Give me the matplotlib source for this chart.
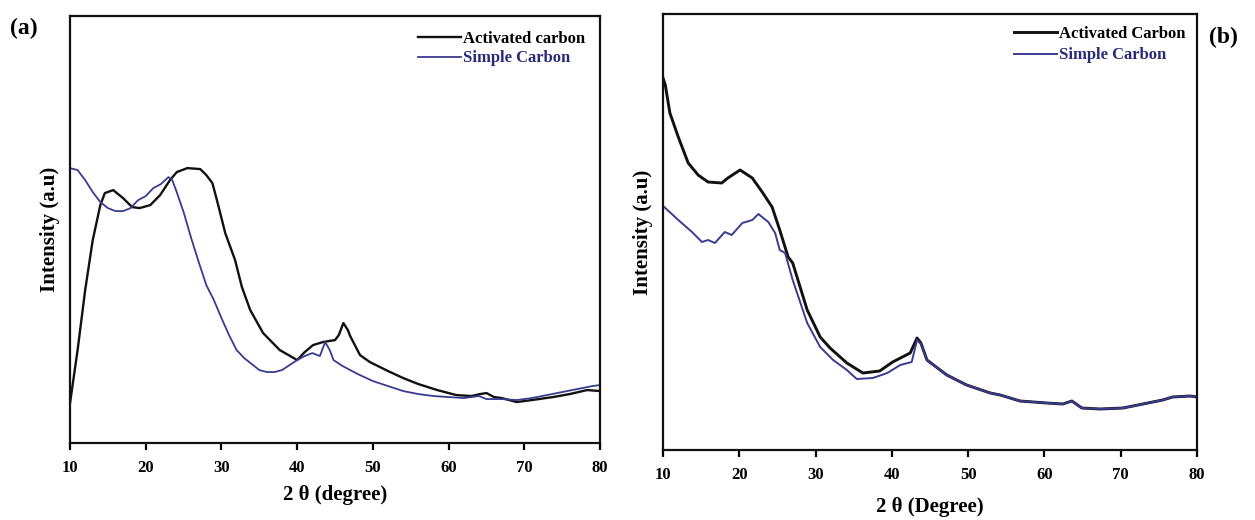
import matplotlib
matplotlib.use("Agg")
import matplotlib.pyplot as plt

# ---------------- panel (a) ----------------
a_act_x = [10, 11, 12, 13, 14, 14.6, 15.7, 17, 18.2, 19.2, 20.6, 21.9, 23.2, 24.1,
           25.5, 27.2, 28, 28.8, 29.4, 30.5, 31.8, 32.7, 33.8, 35.5, 37.7, 40, 41,
           42.1, 43.4, 45, 45.5, 46.1, 46.7, 47, 48.3, 49.6, 52, 54, 56, 58.5, 61,
           63, 64.2, 65, 66, 67, 69, 71, 73.8, 76, 78.3, 80]
a_act_y = [40, 93, 153, 203, 238, 250, 253, 245, 236, 235, 238, 248, 263, 271,
           275, 274, 268, 260, 243, 210, 183, 156, 133, 110, 93, 83, 91,
           98, 101, 103, 108, 120, 113, 107, 88, 81, 72, 65, 59, 53, 48,
           47, 49, 50, 46, 45, 41, 43, 46, 49, 53, 52]

a_sim_x = [10, 11, 12, 13, 14, 15, 16, 17, 18, 18.5, 19, 20, 21, 22, 23, 23.5, 24,
           25, 26, 27, 28, 29, 30, 31, 32, 33, 34, 35, 36, 37, 38, 39, 40, 41, 42,
           43, 43.7, 44.3, 44.8, 46, 48, 50, 52, 54, 56, 58, 60, 62, 64, 65, 67,
           69, 71, 73, 75, 77, 79, 80]
a_sim_y = [275, 273, 263, 251, 241, 235, 232, 232, 235, 239, 243, 247, 255, 259,
           266, 263, 253, 231, 205, 181, 158, 143, 125, 108, 93, 85, 79, 73, 71,
           71, 73, 78, 83, 87, 90, 87, 101, 93, 83, 77, 69, 62, 57, 52, 49, 47,
           46, 45, 47, 44, 44, 43, 45, 48, 51, 54, 57, 58]

# ---------------- panel (b) ----------------
b_act_x = [10, 10.3, 10.9, 12, 13.3, 14.6, 15.9, 17.7, 18.5, 20.1, 21.7, 23, 24.3,
           25.3, 26.4, 27, 28.9, 30.6, 31.9, 34.1, 36.2, 38.4, 40.1, 42.4, 43.3,
           43.8, 44.6, 47.2, 49.8, 52.9, 54.2, 56.8, 60.3, 62.4, 63.6, 64.9, 67.3,
           70.3, 72.9, 75.5, 76.8, 79.1, 80]
b_act_y = [372, 365, 337, 313, 287, 275, 268, 267, 272, 280, 272, 258, 243,
           220, 193, 187, 140, 113, 102, 87, 77, 79, 88, 97, 112,
           107, 90, 75, 65, 57, 55, 49, 47, 46, 49, 42, 41,
           42, 46, 50, 53, 54, 53]

b_sim_x = [10, 10.3, 12, 13.8, 15.1, 15.9, 16.8, 18.1, 19, 20.4, 21.7, 22.5, 23.8,
           24.7, 25.3, 26, 27, 28.9, 30.6, 32.3, 34.1, 35.4, 37.5, 39.4, 41.1,
           42.6, 43.3, 43.8, 44.6, 47.2, 49.8, 52.9, 54.2, 56.8, 60.3, 62.4, 63.6,
           64.9, 67.3, 70.3, 72.9, 75.5, 76.8, 79.1, 80]
b_sim_y = [244, 242, 230, 218, 208, 210, 207, 218, 215, 227, 230, 236, 228,
           217, 200, 197, 170, 127, 103, 90, 80, 71, 72, 77, 85,
           88, 110, 106, 90, 75, 65, 57, 55, 49, 47, 46, 49,
           42, 41, 42, 46, 50, 53, 54, 53]

x_ticks = [10, 20, 30, 40, 50, 60, 70, 80]

BLACK = "#111111"
BLUE = "#3b3b8f"
SERIF = "Liberation Serif"

plt.rcParams["font.family"] = SERIF
plt.rcParams["font.weight"] = "bold"

fig = plt.figure(figsize=(12.55, 5.2), dpi=100)
ax_a = fig.add_axes([0.0558, 0.148, 0.4223, 0.821])
ax_b = fig.add_axes([0.5283, 0.1346, 0.4255, 0.8385])


def style_axes(ax, ylim, xlabel):
    ax.set_xlim(10, 80)
    ax.set_ylim(*ylim)
    ax.set_xticks(x_ticks)
    ax.set_yticks([])
    for s in ax.spines.values():
        s.set_linewidth(1.6)
        s.set_color("#111111")
    ax.tick_params(axis="x", direction="out", length=5, width=1.6,
                   labelsize=12, pad=7)
    for lab in ax.get_xticklabels():
        lab.set_fontweight("bold")
    ax.set_xlabel(xlabel, fontsize=15, fontweight="bold", labelpad=7)
    ax.set_ylabel("Intensity (a.u)", fontsize=15, fontweight="bold", labelpad=7)


# panel (a)
ax_a.plot(a_act_x, a_act_y, color=BLACK, lw=1.7, label="Activated carbon")
ax_a.plot(a_sim_x, a_sim_y, color=BLUE, lw=1.3, label="Simple Carbon")
style_axes(ax_a, (0, 427), "2 θ (degree)")
leg_a = ax_a.legend(loc="upper right", frameon=False, fontsize=12,
                    handlelength=2.6, handletextpad=0.1, borderaxespad=0.5,
                    labelspacing=0.2)
leg_a.get_texts()[1].set_color("#2a2a78")
fig.text(0.008, 0.945, "(a)", fontsize=17, fontweight="bold", ha="left", va="center")

# panel (b)
ax_b.plot(b_act_x, b_act_y, color=BLACK, lw=2.1, label="Activated Carbon")
ax_b.plot(b_sim_x, b_sim_y, color=BLUE, lw=1.4, label="Simple Carbon")
style_axes(ax_b, (0, 436), "2 θ (Degree)")
ax_b.xaxis.labelpad = 10
leg_b = ax_b.legend(loc="upper right", frameon=False, fontsize=12,
                    handlelength=2.6, handletextpad=0.1, borderaxespad=0.3,
                    labelspacing=0.35)
leg_b.get_texts()[1].set_color("#2a2a78")
fig.text(0.963, 0.928, "(b)", fontsize=17, fontweight="bold", ha="left", va="center")

fig.savefig("out.png", dpi=100, facecolor="white")
